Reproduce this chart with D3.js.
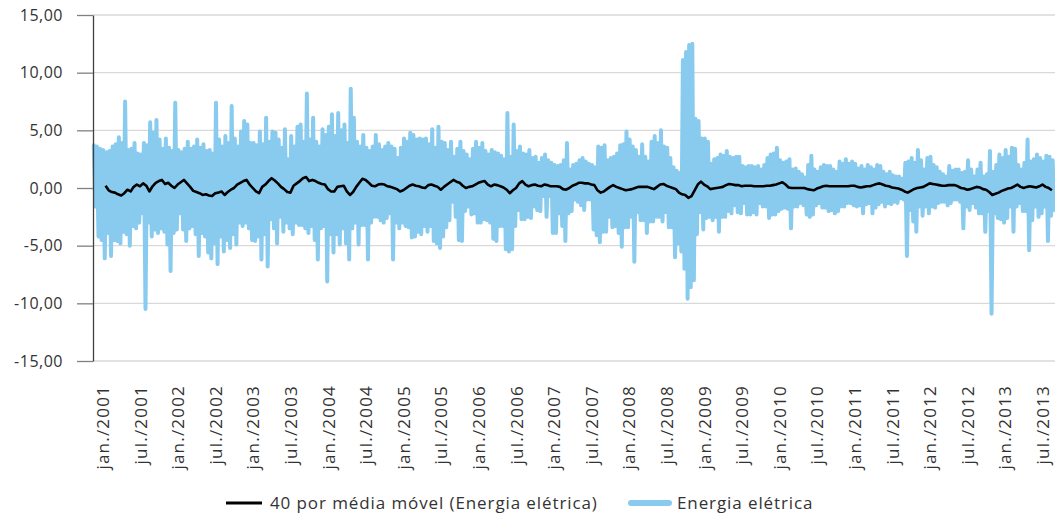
<!DOCTYPE html>
<meta charset="utf-8">
<script src="https://d3js.org/d3.v7.min.js"></script>
<style>
  body { margin: 0; background: #fff; }
  text { font-family: "Open Sans", "Noto Sans", sans-serif; fill: #333; }
</style>
<div id="chart"></div>
<script>
// half-month periods from jan./2001: highest and lowest daily value in each period
var startYear = 2001, periodsPerYear = 24;

var hi = [
  3.7,3.6,3.4,3.3,3.1,3.2,3.6,3.8,4.4,3.9,7.5,3.3,3.4,3.9,3.0,2.9,3.9,3.7,5.7,4.8,5.9,4.2,3.4,4.3, // 2001
  3.5,3.2,7.4,3.3,3.1,3.4,4.0,3.4,3.6,4.2,3.5,3.8,3.2,3.3,3.0,7.4,4.2,3.6,4.5,3.9,7.1,4.3,3.6,4.9, // 2002
  5.8,5.5,3.9,3.9,3.7,4.9,3.8,6.1,4.0,4.9,4.8,4.2,3.5,5.1,2.5,4.5,3.6,5.3,5.5,4.0,8.2,4.2,6.1,4.0, // 2003
  3.6,5.1,4.6,5.3,6.4,4.5,6.5,5.0,5.5,3.9,8.6,6.1,4.0,3.6,4.6,3.5,3.2,3.6,4.6,3.8,3.3,3.6,3.9,3.6, // 2004
  3.4,2.6,3.5,4.3,4.0,4.8,4.6,4.2,4.3,4.2,4.3,3.8,5.1,3.5,5.3,4.0,3.9,3.3,4.0,2.7,3.4,4.0,3.2,2.9, // 2005
  2.5,3.4,4.0,3.5,3.9,3.2,2.9,3.3,3.1,3.0,2.8,2.5,6.5,2.7,5.5,3.2,3.6,3.0,2.9,3.3,2.6,2.7,2.2,2.6, // 2006
  2.9,2.4,2.2,2.0,1.9,2.0,2.4,3.9,1.6,2.0,2.1,2.4,2.6,2.3,2.1,2.0,1.8,3.6,3.5,3.7,2.4,2.6,2.7,3.0, // 2007
  3.7,3.8,4.9,4.2,3.6,3.3,2.7,3.8,2.7,2.3,4.0,4.5,3.9,5.0,3.6,3.5,2.6,1.8,1.5,1.3,11.1,11.8,12.4,12.5, // 2008
  6.0,5.8,4.3,4.3,4.0,2.1,2.5,2.6,2.9,2.8,3.2,2.7,2.6,2.7,2.7,1.9,1.8,1.9,1.9,1.8,1.9,1.6,2.0,2.6, // 2009
  2.9,3.0,3.5,2.4,2.2,2.3,2.5,1.6,1.7,1.4,1.2,0.9,2.0,2.8,1.6,1.4,1.8,2.0,1.9,1.9,1.6,1.4,2.3,2.1, // 2010
  2.5,2.1,2.3,2.1,1.7,1.9,1.6,2.0,1.8,1.6,2.0,1.9,1.4,1.2,1.4,1.1,1.0,1.0,0.8,2.2,2.3,2.6,2.2,3.3, // 2011
  2.4,1.6,2.6,2.7,2.0,1.8,1.4,1.2,1.0,1.9,1.5,1.6,1.6,1.3,1.4,2.4,1.6,1.0,1.6,2.2,1.0,1.2,3.2,1.4, // 2012
  2.0,2.9,2.6,3.3,2.7,3.5,3.4,2.0,1.6,2.2,4.2,2.3,2.5,2.9,2.6,2.3,2.8,2.7,2.4                      // 2013
];

var lo = [
  -1.6,-4.2,-4.5,-6.1,-3.9,-5.9,-4.5,-4.6,-4.8,-3.8,-4.0,-5.0,-3.3,-3.5,-3.0,-2.2,-10.5,-3.0,-4.2,-3.6,-3.9,-3.5,-3.8,-4.9,
  -7.2,-3.9,-3.6,-2.2,-3.6,-4.6,-3.5,-3.3,-4.0,-5.9,-3.9,-4.2,-5.6,-6.1,-4.8,-6.6,-4.2,-5.5,-4.5,-5.2,-4.0,-4.9,-3.0,-3.3,
  -3.0,-3.5,-4.5,-4.6,-4.2,-6.2,-4.0,-6.8,-2.7,-3.5,-4.8,-2.5,-3.8,-3.0,-3.5,-4.0,-3.0,-3.2,-3.2,-3.5,-3.9,-3.3,-4.5,-6.2,
  -3.5,-3.3,-8.1,-4.0,-5.6,-4.0,-4.9,-3.5,-4.8,-6.2,-3.5,-3.0,-4.9,-3.2,-3.2,-6.2,-3.0,-2.5,-2.5,-2.8,-3.0,-2.6,-2.2,-6.2,
  -3.0,-3.5,-3.0,-3.3,-3.4,-4.3,-4.2,-3.8,-4.0,-3.3,-3.8,-3.3,-4.6,-4.8,-5.2,-4.2,-3.4,-2.8,-1.2,-2.5,-4.5,-4.6,-2.0,-1.6,
  -2.3,-2.2,-3.0,-3.0,-2.7,-2.8,-3.0,-4.4,-4.6,-3.3,-3.3,-5.3,-5.5,-5.3,-3.3,-1.9,-2.7,-2.7,-2.5,-2.6,-1.6,-1.9,-2.0,-0.7,
  -2.5,-0.7,-3.9,-3.9,-2.2,-3.3,-4.6,-2.2,-2.0,-1.0,-1.2,-1.5,-1.9,-1.0,-1.0,-3.6,-4.1,-4.7,-3.8,-3.8,-2.5,-3.4,-3.3,-3.9,
  -5.1,-3.4,-3.4,-2.5,-6.4,-2.1,-2.8,-2.8,-3.9,-2.9,-2.9,-2.5,-2.5,-2.9,-2.1,-3.4,-3.4,-6.0,-4.8,-5.5,-7.0,-9.6,-8.6,-8.0,
  -4.0,-2.1,-3.6,-2.6,-2.5,-2.8,-2.5,-3.8,-2.5,-2.5,-2.0,-2.2,-1.5,-2.1,-2.2,-1.3,-2.3,-2.3,-2.1,-2.3,-1.3,-1.6,-1.6,-2.6,
  -2.3,-2.3,-2.0,-1.8,-1.7,-1.8,-3.5,-1.6,-1.6,-1.3,-1.5,-2.3,-2.5,-2.3,-1.5,-1.3,-1.7,-1.7,-2.0,-1.9,-2.2,-2.0,-1.6,-1.6,
  -1.3,-1.3,-1.5,-1.6,-1.5,-2.2,-1.4,-1.3,-2.2,-1.7,-1.4,-1.2,-1.6,-1.3,-1.4,-1.2,-1.3,-0.9,-1.0,-5.9,-1.9,-2.9,-3.8,-1.6,
  -2.4,-1.6,-2.2,-1.6,-1.7,-1.3,-1.2,-1.2,-1.5,-1.3,-1.0,-1.0,-1.2,-3.5,-1.6,-1.9,-1.3,-1.7,-2.2,-2.2,-3.8,-2.0,-10.9,-2.2,
  -2.6,-2.7,-3.0,-2.6,-1.6,-3.8,-1.6,-1.3,-2.0,-2.0,-5.4,-2.8,-1.6,-2.5,-2.2,-1.6,-4.6,-2.4,-1.9
];

// 40 day moving average, one value per half-month starting at period 4
var maFirstPeriod = 4;
var ma = [
  0.2,-0.2,-0.35,-0.4,-0.55,-0.65,-0.45,-0.15,-0.3,0.1,0.3,0.15,0.4,0.2,-0.3,0.15,0.45,0.6,0.7,0.35,
  0.45,0.2,0.0,0.3,0.5,0.7,0.4,0.1,-0.25,-0.35,-0.45,-0.6,-0.55,-0.65,-0.7,-0.45,-0.4,-0.3,-0.6,-0.35,-0.15,0.0,0.3,0.45,
  0.6,0.7,0.3,0.0,-0.3,-0.45,0.1,0.3,0.6,0.85,0.65,0.4,0.1,-0.1,-0.35,-0.4,0.2,0.4,0.6,0.85,0.95,0.6,0.7,0.6,
  0.45,0.35,0.3,-0.1,-0.3,-0.3,0.1,0.15,0.2,-0.3,-0.6,-0.35,0.1,0.45,0.8,0.7,0.45,0.2,0.15,0.3,0.35,0.3,0.15,0.1,
  0.0,-0.1,-0.3,-0.2,0.0,0.2,0.3,0.2,0.15,0.05,0.0,0.25,0.3,0.2,0.1,-0.15,0.1,0.3,0.5,0.7,0.55,0.45,0.2,0.0,
  0.1,0.15,0.3,0.45,0.55,0.6,0.3,0.15,0.3,0.25,0.15,0.05,-0.15,-0.45,-0.2,0.0,0.4,0.6,0.3,0.15,0.25,0.3,0.2,0.15,
  0.3,0.25,0.15,0.15,0.15,0.1,-0.1,-0.15,0.0,0.2,0.3,0.45,0.45,0.4,0.4,0.3,0.25,-0.2,-0.4,-0.3,-0.1,0.1,0.25,0.1,
  0.0,-0.1,-0.2,-0.15,-0.1,0.0,0.1,0.1,0.1,0.1,0.0,-0.1,0.1,0.3,0.35,0.2,0.1,0.0,-0.1,-0.4,-0.55,-0.6,-0.85,-0.7,
  -0.2,0.3,0.55,0.3,0.15,-0.1,-0.05,0.0,0.05,0.1,0.25,0.35,0.3,0.25,0.25,0.15,0.2,0.2,0.2,0.15,0.15,0.15,0.15,0.2,
  0.2,0.25,0.3,0.4,0.5,0.3,0.05,0.0,0.0,0.0,0.0,0.0,-0.1,-0.15,-0.2,-0.05,0.05,0.15,0.2,0.15,0.15,0.15,0.15,0.15,
  0.15,0.15,0.2,0.2,0.1,0.05,0.1,0.15,0.15,0.25,0.35,0.4,0.3,0.2,0.15,0.05,0.0,-0.05,-0.15,-0.3,-0.4,-0.25,-0.1,0.0,
  0.05,0.1,0.25,0.4,0.35,0.3,0.25,0.2,0.2,0.25,0.25,0.25,0.15,0.0,-0.05,-0.15,-0.1,0.0,0.1,0.05,-0.1,-0.15,-0.35,-0.6,
  -0.5,-0.4,-0.25,-0.15,-0.05,0.0,0.15,0.3,0.1,0.0,0.1,0.15,0.1,0.05,0.15,0.3,0.1,0.0,-0.2
];

var yTicks = [-15, -10, -5, 0, 5, 10, 15];
var xTickYears = [2001,2001.5,2002,2002.5,2003,2003.5,2004,2004.5,2005,2005.5,2006,2006.5,2007,
                  2007.5,2008,2008.5,2009,2009.5,2010,2010.5,2011,2011.5,2012,2012.5,2013,2013.5];
var xTickLabels = ["jan./2001","jul./2001","jan./2002","jul./2002","jan./2003","jul./2003","jan./2004",
                   "jul./2004","jan./2005","jul./2005","jan./2006","jul./2006","jan./2007","jul./2007",
                   "jan./2008","jul./2008","jan./2009","jul./2009","jan./2010","jul./2010","jan./2011",
                   "jul./2011","jan./2012","jul./2012","jan./2013","jul./2013"];

var width = 1055, height = 514;
var plotLeft = 93, plotRight = 1055, plotTop = 15, plotBottom = 361;

var svg = d3.select("#chart").append("svg")
    .attr("width", width)
    .attr("height", height);

var yearOf = function(p) { return startYear + p / periodsPerYear; };

var x = d3.scaleLinear()
    .domain([startYear, yearOf(hi.length)])
    .range([plotLeft, plotRight]);

var y = d3.scaleLinear()
    .domain([-15, 15])
    .range([plotBottom, plotTop]);

var br = d3.formatLocale({decimal: ",", thousands: ".", grouping: [3], currency: ["R$", ""], minus: "-"});
var fmt = br.format(".2f");

// gridlines
svg.append("g")
  .selectAll("line")
  .data(yTicks)
  .enter()
  .append("line")
    .attr("x1", plotLeft)
    .attr("x2", plotRight)
    .attr("y1", function(d) { return y(d); })
    .attr("y2", function(d) { return y(d); })
    .attr("stroke", "#d9d9d9")
    .attr("stroke-width", 1.3);

// daily series: zig-zag between the high and low of each period
var daily = [];
hi.forEach(function(v, i) {
  daily.push([yearOf(i + 0.25), v]);
  daily.push([yearOf(i + 0.75), lo[i]]);
});

var line = d3.line()
    .x(function(d) { return x(d[0]); })
    .y(function(d) { return y(d[1]); });

svg.append("path")
    .datum(daily)
    .attr("d", line)
    .attr("fill", "none")
    .attr("stroke", "#88cbef")
    .attr("stroke-width", 4)
    .attr("stroke-linejoin", "round")
    .attr("stroke-linecap", "round");

var maPoints = ma.map(function(v, i) { return [yearOf(maFirstPeriod + i), v]; });

svg.append("path")
    .datum(maPoints)
    .attr("d", line)
    .attr("fill", "none")
    .attr("stroke", "#000")
    .attr("stroke-width", 2.6)
    .attr("stroke-linejoin", "round");

// y axis
var yAxis = svg.append("g")
    .attr("transform", "translate(" + plotLeft + ",0)")
    .call(d3.axisLeft(y).tickValues(yTicks).tickSize(16).tickSizeOuter(0).tickPadding(14).tickFormat(fmt));
yAxis.select(".domain").attr("stroke", "#404040").attr("stroke-width", 1.3);
yAxis.selectAll(".tick line").attr("stroke", "#808080").attr("stroke-width", 1.3);
yAxis.selectAll(".tick text")
    .style("font-family", "'Open Sans', sans-serif")
    .style("font-size", "16px")
    .style("letter-spacing", "0.5px")
    .attr("fill", "#333");

// x labels, rotated
svg.append("g")
  .selectAll("text")
  .data(xTickYears)
  .enter()
  .append("text")
    .attr("transform", function(d) { return "translate(" + (x(d) + 10) + ",385) rotate(-90)"; })
    .attr("text-anchor", "end")
    .attr("dy", "0.35em")
    .style("font-size", "17px")
    .style("letter-spacing", "1.2px")
    .text(function(d, i) { return xTickLabels[i]; });

// legend
var legend = svg.append("g");
legend.append("line")
    .attr("x1", 226).attr("x2", 262).attr("y1", 503).attr("y2", 503)
    .attr("stroke", "#000").attr("stroke-width", 3);
legend.append("text")
    .attr("x", 270).attr("y", 503).attr("dy", "0.35em")
    .style("font-size", "17px").style("letter-spacing", "0.9px")
    .text("40 por média móvel (Energia elétrica)");
legend.append("line")
    .attr("x1", 631).attr("x2", 669).attr("y1", 503).attr("y2", 503)
    .attr("stroke", "#88cbef").attr("stroke-width", 6).attr("stroke-linecap", "round");
legend.append("text")
    .attr("x", 677).attr("y", 503).attr("dy", "0.35em")
    .style("font-size", "17px").style("letter-spacing", "0.9px")
    .text("Energia elétrica");
</script>
